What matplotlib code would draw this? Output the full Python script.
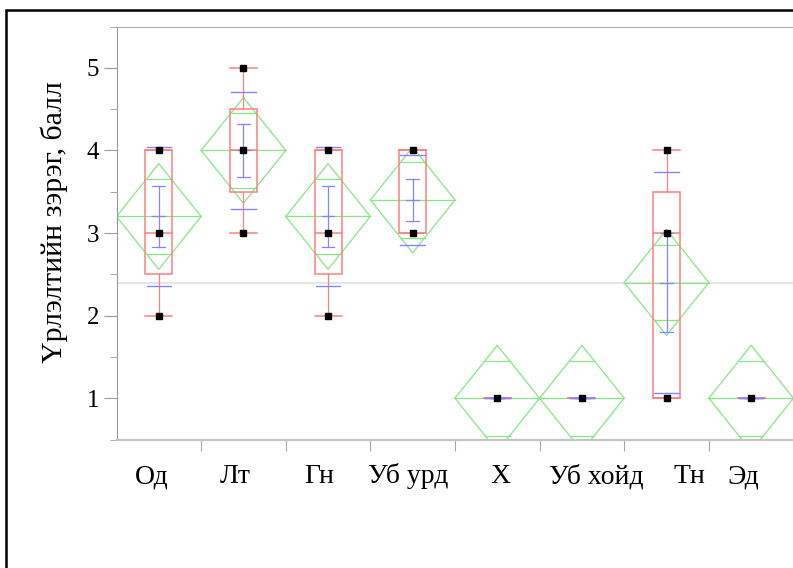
import numpy as np
import matplotlib.pyplot as plt
from matplotlib.patches import Rectangle

plt.rcParams['font.family'] = ['Liberation Serif', 'DejaVu Serif']

# Groups and summary values
groups = ['Од', 'Лт', 'Гн', 'Уб урд', 'Х', 'Уб хойд', 'Тн', 'Эд']
means = [3.2, 4.0, 3.2, 3.4, 1.0, 1.0, 2.4, 1.0]
q1 = [2.5, 3.5, 2.5, 3.0, 1.0, 1.0, 1.0, 1.0]
medians = [3.0, 4.0, 3.0, 4.0, 1.0, 1.0, 3.0, 1.0]
q3 = [4.0, 4.5, 4.0, 4.0, 1.0, 1.0, 3.5, 1.0]
whisker_lo = [2.0, 3.0, 2.0, 3.0, 1.0, 1.0, 1.0, 1.0]
whisker_hi = [4.0, 5.0, 4.0, 4.0, 1.0, 1.0, 4.0, 1.0]
std_dev = [0.84, 0.71, 0.84, 0.55, 0.0, 0.0, 1.34, 0.0]
std_err = [0.37, 0.32, 0.37, 0.25, 0.0, 0.0, 0.60, 0.0]
ci_half = [0.64, 0.64, 0.64, 0.64, 0.64, 0.64, 0.64, 0.64]
overlap = [0.455, 0.455, 0.455, 0.455, 0.455, 0.455, 0.455, 0.455]
points = [[2, 3, 4], [3, 4, 5], [2, 3, 4], [3, 4], [1], [1], [1, 3, 4], [1]]
grand_mean = 2.4

# label shifts (category units) as in the original layout
label_dx = [-0.084, -0.099, -0.100, -0.054, 0.041, 0.171, 0.267, -0.091]

red = '#ff8080'
green = '#85e885'
blue = '#8585ff'

W, H = 793, 568
fig = plt.figure(figsize=(W / 100, H / 100), dpi=100)
ax = fig.add_axes([116.5 / W, 1 - 439.5 / H, 677 / W, 413 / H])

ax.axhline(grand_mean, color='#e6e6e6', lw=1.5, zorder=0)

bw = 0.32    # box width
sdw = 0.29   # std dev line width
sew = 0.15   # std error cap width

for i, name in enumerate(groups):
    x = i + 0.5
    m = means[i]
    h = ci_half[i]

    # means diamond
    ax.plot([x - 0.5, x, x + 0.5, x, x - 0.5], [m, m + h, m, m - h, m],
            color=green, lw=0.9, zorder=2)
    ax.plot([x - 0.5, x + 0.5], [m, m], color=green, lw=0.9, zorder=2)
    half = 0.5 * (1 - overlap[i] / h)
    for s in (1, -1):
        ax.plot([x - half, x + half], [m + s * overlap[i]] * 2,
                color=green, lw=0.9, zorder=2)

    # box plot
    ax.add_patch(Rectangle((x - bw / 2, q1[i]), bw, q3[i] - q1[i],
                           fill=False, edgecolor=red, lw=1.1, zorder=3))
    ax.plot([x - bw / 2, x + bw / 2], [medians[i]] * 2, color=red, lw=1.1, zorder=3)
    ax.plot([x, x], [whisker_lo[i], q1[i]], color=red, lw=0.9, zorder=3)
    ax.plot([x, x], [q3[i], whisker_hi[i]], color=red, lw=0.9, zorder=3)
    for v in (whisker_lo[i], whisker_hi[i]):
        ax.plot([x - bw / 2, x + bw / 2], [v, v], color=red, lw=1.1, zorder=3)

    # std dev lines
    for s in (1, -1):
        ax.plot([x - sdw / 2, x + sdw / 2], [m + s * std_dev[i]] * 2,
                color=blue, lw=1.0, zorder=4)

    # std error bar
    ax.plot([x, x], [m - std_err[i], m + std_err[i]], color=blue, lw=0.9, zorder=4)
    for v in (m - std_err[i], m, m + std_err[i]):
        ax.plot([x - sew / 2, x + sew / 2], [v, v], color=blue, lw=0.9, zorder=4)

    # data points
    ax.plot([x] * len(points[i]), points[i], 's', color='black', ms=4.5, zorder=5)

ax.set_xlim(0, len(groups))
ax.set_ylim(0.5, 5.5)

ax.set_xticks(np.arange(1, len(groups)))
ax.set_xticklabels([])
for i, name in enumerate(groups):
    ax.text(i + 0.5 + label_dx[i], -0.106, name, transform=ax.get_xaxis_transform(),
            ha='center', va='baseline', fontsize=20)

ax.set_yticks([1, 2, 3, 4, 5])
ax.set_yticks(np.arange(0.5, 5.6, 0.5), minor=True)
ax.tick_params(axis='y', which='major', length=9.5, color='#999999', labelsize=18, pad=3)
ax.tick_params(axis='y', which='minor', length=5, color='#999999')
ax.tick_params(axis='x', which='major', length=8, color='#aaaaaa')

ax.spines['right'].set_visible(False)
ax.spines['top'].set_color('#b0b0b0')
ax.spines['left'].set_color('#999999')
ax.spines['bottom'].set_color('#c4c4c4')
ax.spines['bottom'].set_linewidth(1.6)

fig.text(54 / W, 1 - 222.5 / H, 'Үрлэлтийн зэрэг, балл', rotation=90,
         ha='center', va='center', fontsize=21.5)

# outer frame
fig.add_artist(Rectangle((6.2 / W, -0.5), 2, 1.5 - 9.7 / H, transform=fig.transFigure,
                         fill=False, edgecolor='black', lw=1.8))

fig.savefig('out.png', dpi=100)
